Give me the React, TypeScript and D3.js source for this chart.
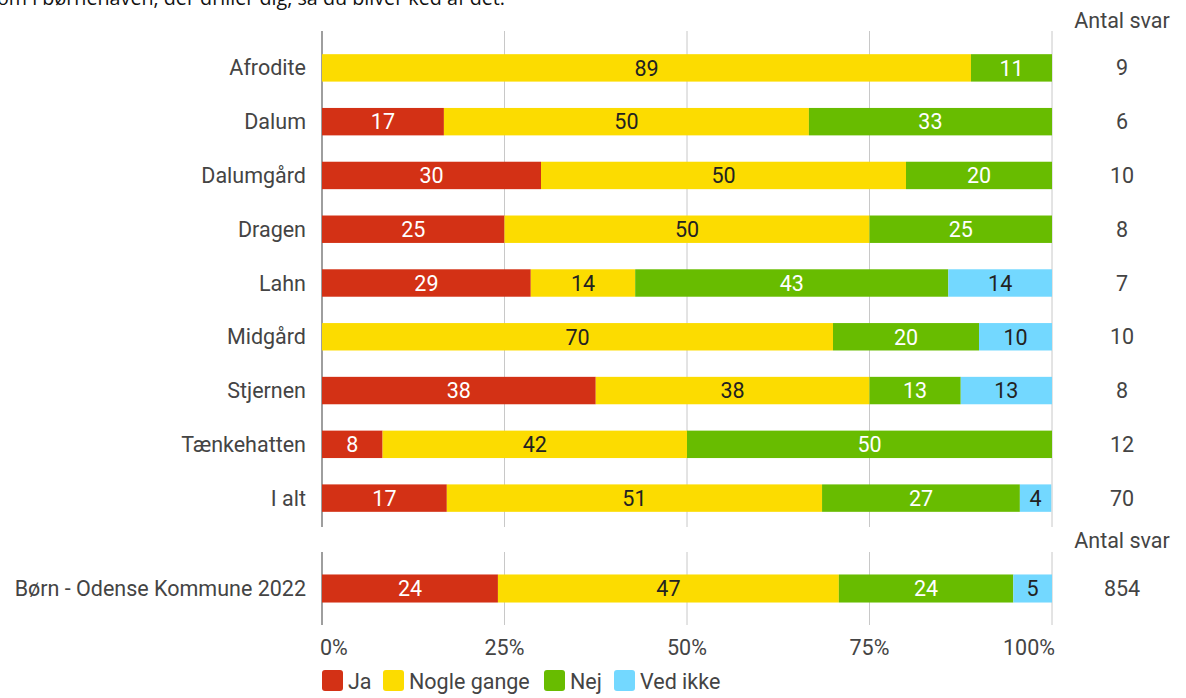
import React from "react";
import * as d3 from "d3";

const categories = ["Afrodite", "Dalum", "Dalumgård", "Dragen", "Lahn", "Midgård", "Stjernen", "Tænkehatten", "I alt"];
const ja = [0, 16.7, 30, 25, 28.6, 0, 37.5, 8.3, 17.1];
const nogleGange = [88.9, 50, 50, 50, 14.3, 70, 37.5, 41.7, 51.4];
const nej = [11.1, 33.3, 20, 25, 42.9, 20, 12.5, 50, 27.1];
const vedIkke = [0, 0, 0, 0, 14.3, 10, 12.5, 0, 4.3];
const antalSvar = [9, 6, 10, 8, 7, 10, 8, 12, 70];

const benchCategory = ["Børn - Odense Kommune 2022"];
const benchJa = [24.1];
const benchNogle = [46.7];
const benchNej = [23.9];
const benchVed = [5.3];
const benchAntal = [854];

const seriesNames = ["Ja", "Nogle gange", "Nej", "Ved ikke"];
const seriesColors = ["#D33115", "#FCDC00", "#68BC00", "#73D8FF"];
const labelColors = ["#ffffff", "#222222", "#ffffff", "#222222"];
const xTicks = [0, 25, 50, 75, 100];
const titleText = "om i børnehaven, der driller dig, så du bliver ked af det.";

const FONT = "Roboto, 'Noto Sans', sans-serif";
const FS = 21.5;

function rows(cats: string[], s: number[][]) {
  return cats.map((c, i) => {
    let acc = 0;
    const segs = s.map((arr, k) => {
      const x0 = acc;
      acc += arr[i];
      return { k, x0, x1: Math.min(acc, 100), v: arr[i] };
    });
    return { cat: c, segs };
  });
}

export default function App() {
  const x = d3.scaleLinear().domain([0, 100]).range([322, 1052]);
  const yTop = d3.scaleBand<string>().domain(categories).range([41, 525]).paddingInner(0.49).paddingOuter(0.245);
  const yBot = d3.scaleBand<string>().domain(benchCategory).range([561, 616]).paddingInner(0.49).paddingOuter(0.245);

  const topRows = rows(categories, [ja, nogleGange, nej, vedIkke]);
  const botRows = rows(benchCategory, [benchJa, benchNogle, benchNej, benchVed]);

  const panel = (
    rs: ReturnType<typeof rows>,
    y: d3.ScaleBand<string>,
    y0: number,
    y1: number,
    counts: number[],
    key: string
  ) => (
    <g key={key}>
      {xTicks.map((t) => (
        <line key={t} x1={x(t)} x2={x(t)} y1={y0} y2={y1} stroke={t === 0 ? "#9e9e9e" : "#c8c8c8"} strokeWidth={t === 0 ? 2 : 1} />
      ))}
      {rs.map((r, i) => {
        const by = y(r.cat)!;
        const bh = y.bandwidth();
        const cy = by + bh / 2;
        return (
          <g key={r.cat}>
            <text x={306} y={cy} dy="0.35em" textAnchor="end" fontSize={FS} fill="#444" fontFamily={FONT}>{r.cat}</text>
            {r.segs.filter((s) => s.v > 0).map((s) => (
              <rect key={s.k} x={x(s.x0)} y={by} width={x(s.x1) - x(s.x0)} height={bh} fill={seriesColors[s.k]} />
            ))}
            {r.segs.filter((s) => s.v > 0).map((s) => (
              <text key={"t" + s.k} x={(x(s.x0) + x(s.x1)) / 2} y={cy} dy="0.36em" textAnchor="middle" fontSize={FS} fill={labelColors[s.k]} fontFamily={FONT}>
                {Math.round(s.v)}
              </text>
            ))}
            <text x={1122} y={cy} dy="0.35em" textAnchor="middle" fontSize={FS} fill="#444" fontFamily={FONT}>{counts[i]}</text>
          </g>
        );
      })}
    </g>
  );

  const legendX = [322, 383, 544, 614];

  return (
    <div style={{ position: "absolute", left: 0, top: 0 }}>
      <svg width={1186} height={698} style={{ display: "block", background: "#fff" }}>
        <text x={-3} y={5} fontSize={20} fill="#111" fontFamily="'Open Sans', sans-serif" textLength={508} lengthAdjust="spacingAndGlyphs">{titleText}</text>
        <text x={1122} y={20} dy="0.35em" textAnchor="middle" fontSize={FS} fill="#444" fontFamily={FONT}>Antal svar</text>
        <text x={1122} y={540} dy="0.35em" textAnchor="middle" fontSize={FS} fill="#444" fontFamily={FONT}>Antal svar</text>
        {panel(topRows, yTop, 31, 527, antalSvar, "top")}
        {panel(botRows, yBot, 552, 625, benchAntal, "bot")}
        {xTicks.map((t, i) => (
          <text key={t} x={i === 0 ? x(t) - 2 : i === xTicks.length - 1 ? x(t) + 3 : x(t)} y={647} dy="0.35em"
            textAnchor={i === 0 ? "start" : i === xTicks.length - 1 ? "end" : "middle"} fontSize={FS} fill="#444" fontFamily={FONT}>
            {t}%
          </text>
        ))}
        {seriesNames.map((n, i) => (
          <g key={n}>
            <rect x={legendX[i]} y={670} width={21} height={21} rx={3} fill={seriesColors[i]} />
            <text x={legendX[i] + 26} y={681} dy="0.35em" fontSize={FS} fill="#444" fontFamily={FONT}>{n}</text>
          </g>
        ))}
      </svg>
    </div>
  );
}
